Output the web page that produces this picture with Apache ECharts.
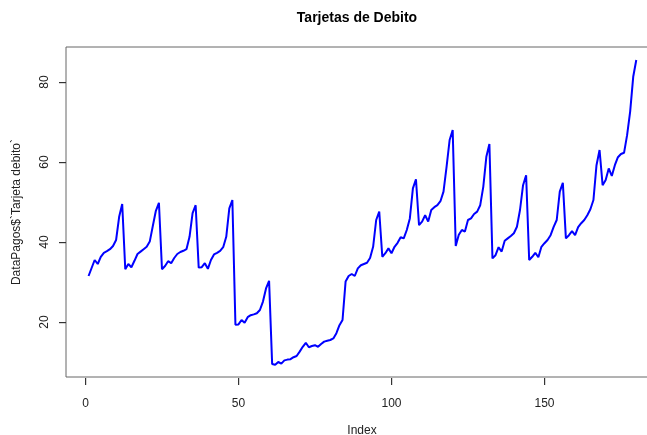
<!DOCTYPE html>
<html>
<head>
<meta charset="utf-8">
<script src="https://cdn.jsdelivr.net/npm/echarts@6/dist/echarts.min.js"></script>
<style>
html,body{margin:0;padding:0;background:#fff;}
#main{width:647px;height:435px;}
</style>
</head>
<body>
<div id="main"></div>
<script>
var titleText = "Tarjetas de Debito";
var xName = "Index";
var yName = "DataPagos$`Tarjeta debito`";
var xTicks = [0, 50, 100, 150];
var yTicks = [20, 40, 60, 80];
var values = [
 31.5, 33.5, 35.5, 34.5, 36.3, 37.3, 37.7, 38.2, 39.0, 40.5, 46.3, 49.5,
 33.2, 34.5, 33.7, 35.3, 37.0, 37.6, 38.2, 38.8, 40.1, 44.0, 47.8, 49.8,
 33.2, 34.0, 35.2, 34.7, 36.0, 37.0, 37.5, 37.8, 38.2, 41.3, 47.2, 49.2,
 33.6, 33.7, 34.7, 33.3, 35.5, 36.9, 37.3, 37.8, 38.7, 41.3, 48.4, 50.5,
 19.3, 19.4, 20.5, 19.8, 21.2, 21.7, 21.9, 22.2, 23.0, 25.1, 28.4, 30.3,
 9.5, 9.3, 10.0, 9.6, 10.4, 10.6, 10.7, 11.2, 11.5, 12.6, 13.8, 14.8,
 13.7, 14.0, 14.2, 13.8, 14.5, 15.1, 15.3, 15.5, 15.9, 17.2, 19.2, 20.5,
 30.1, 31.5, 32.0, 31.5, 33.4, 34.2, 34.5, 34.8, 36.0, 38.8, 45.5, 47.6,
 36.3, 37.2, 38.4, 37.2, 38.8, 39.8, 41.2, 40.9, 43.0, 45.9, 53.4, 55.7,
 44.2, 45.1, 46.7, 45.1, 48.0, 48.7, 49.2, 50.2, 52.6, 58.8, 65.5, 68.0,
 39.0, 41.8, 43.0, 42.6, 45.5, 45.9, 47.0, 47.6, 49.2, 53.8, 61.3, 64.5,
 35.9, 36.7, 38.7, 37.6, 40.3, 40.9, 41.5, 42.2, 43.8, 48.0, 54.2, 56.7,
 35.5, 36.3, 37.3, 36.2, 38.8, 39.7, 40.5, 41.7, 43.8, 45.5, 52.6, 54.8,
 40.9, 41.7, 42.7, 41.7, 43.7, 44.7, 45.5, 46.7, 48.2, 50.5, 59.2, 63.0,
 54.2, 55.5, 58.4, 56.5, 59.2, 61.2, 62.0, 62.3, 66.7, 72.6, 81.3, 85.5
];
var points = values.map(function (v, i) { return [i + 1, v]; });

var X_MIN = -6.37, X_MAX = 187.1, Y_MIN = 6.25, Y_MAX = 88.75;
var TICK_LEN = 7;

var chart = echarts.init(document.getElementById('main'), null, {renderer: 'canvas'});
var font = 'Liberation Sans, Arial, sans-serif';
chart.setOption({
  animation: false,
  backgroundColor: '#ffffff',
  grid: {left: 66, top: 47, width: 592, height: 330, show: true, borderColor: '#666', borderWidth: 1,
         backgroundColor: 'transparent', containLabel: false, outerBoundsMode: 'none'},
  xAxis: {
    type: 'value', min: X_MIN, max: X_MAX,
    name: xName, nameLocation: 'middle', nameGap: 48,
    nameTextStyle: {fontFamily: font, fontSize: 12, color: '#222'},
    axisLine: {show: false, onZero: false},
    splitLine: {show: false},
    axisTick: {show: false},
    axisLabel: {fontFamily: font, fontSize: 12, color: '#222', margin: 21, customValues: xTicks}
  },
  yAxis: {
    type: 'value', min: Y_MIN, max: Y_MAX,
    name: yName, nameLocation: 'middle', nameGap: 43,
    nameTextStyle: {fontFamily: font, fontSize: 12, color: '#222'},
    axisLine: {show: false, onZero: false},
    splitLine: {show: false},
    axisTick: {show: false},
    axisLabel: {fontFamily: font, fontSize: 12, color: '#222', margin: 15, rotate: 90, customValues: yTicks}
  },
  series: [{
    type: 'line', data: points, showSymbol: false, symbol: 'none',
    lineStyle: {color: '#0000ff', width: 2}
  }]
});

var gfx = [{
  type: 'text', x: 357, y: 18, z: 100,
  style: {text: titleText, font: 'bold 14px ' + font, fill: '#000', align: 'center', verticalAlign: 'middle'}
}];
xTicks.forEach(function (v) {
  var p = chart.convertToPixel({gridIndex: 0}, [v, Y_MIN]);
  var x = Math.round(p[0]);
  gfx.push({type: 'rect', zlevel: 5, z: 100, shape: {x: x, y: Math.round(p[1]) + 1, width: 1.2, height: TICK_LEN},
            style: {fill: '#333', stroke: null}});
});
yTicks.forEach(function (v) {
  var p = chart.convertToPixel({gridIndex: 0}, [X_MIN, v]);
  var y = Math.round(p[1]);
  gfx.push({type: 'rect', zlevel: 5, z: 100, shape: {x: Math.round(p[0]) - TICK_LEN, y: y, width: TICK_LEN, height: 1.2},
            style: {fill: '#333', stroke: null}});
});
chart.setOption({graphic: gfx});
</script>
</body>
</html>
